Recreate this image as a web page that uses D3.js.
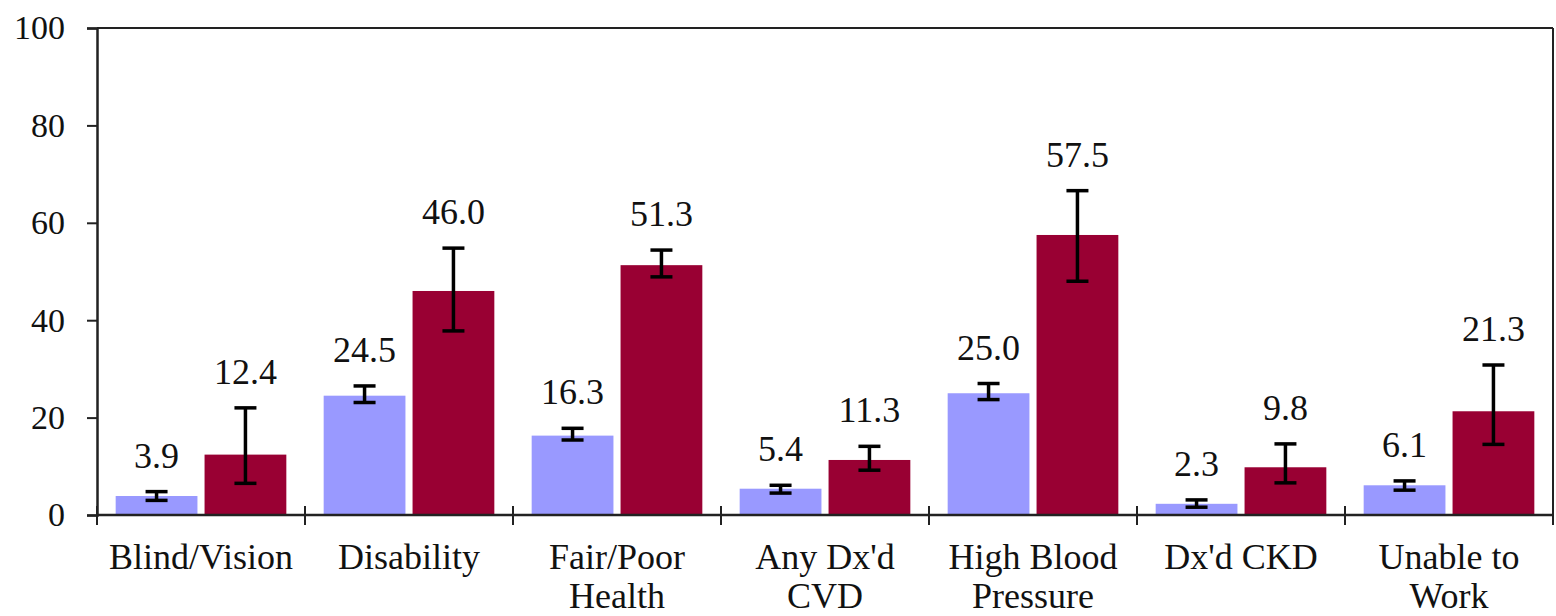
<!DOCTYPE html>
<html>
<head>
<meta charset="utf-8">
<script src="https://cdn.jsdelivr.net/npm/d3@7"></script>
<style>
  html, body { margin: 0; padding: 0; background: #fff; }
  svg { display: block; }
</style>
</head>
<body>
<svg id="chart" width="1556" height="616"></svg>
<script>
// ---- data ----
const categories = [["Blind/Vision"], ["Disability"], ["Fair/Poor", "Health"], ["Any Dx'd", "CVD"], ["High Blood", "Pressure"], ["Dx'd CKD"], ["Unable to", "Work"]];
const seriesNames = ["Group A", "Group B"];
const valuesA = [3.9, 24.5, 16.3, 5.4, 25.0, 2.3, 6.1];
const lowA    = [3.0, 23.1, 15.4, 4.5, 23.7, 1.6, 5.1];
const highA   = [4.8, 26.5, 17.8, 6.1, 27.0, 3.1, 7.0];
const valuesB = [12.4, 46.0, 51.3, 11.3, 57.5, 9.8, 21.3];
const lowB    = [6.5, 37.8, 48.9, 9.2, 48.0, 6.6, 14.5];
const highB   = [22.0, 54.8, 54.4, 14.1, 66.6, 14.6, 30.8];
const yTicks  = [0, 20, 40, 60, 80, 100];

// ---- layout ----
const W = 1556, H = 616;
const margin = { top: 28, right: 3, bottom: 101, left: 97 };
const iw = W - margin.left - margin.right;
const ih = H - margin.top - margin.bottom;
const colors = ["#9999ff", "#990033"];
const serif = "'Liberation Serif', 'Times New Roman', serif";

const svg = d3.select("#chart");
const g = svg.append("g").attr("transform", `translate(${margin.left},${margin.top})`);

const idx = categories.map((d, i) => i);
const x0 = d3.scaleBand().domain(idx).range([0, iw]).padding(0);
const x1 = d3.scaleBand().domain([0, 1]).range([0, x0.bandwidth()]).paddingInner(0.08).paddingOuter(0.21);
const y = d3.scaleLinear().domain([0, 100]).range([ih, 0]);

const rows = idx.map(i => [
  { s: 0, v: valuesA[i], lo: lowA[i], hi: highA[i] },
  { s: 1, v: valuesB[i], lo: lowB[i], hi: highB[i] }
]);

// bars
const groups = g.selectAll("g.grp").data(rows).join("g")
  .attr("class", "grp")
  .attr("transform", (d, i) => `translate(${x0(i)},0)`);

groups.selectAll("rect").data(d => d).join("rect")
  .attr("x", d => x1(d.s))
  .attr("width", x1.bandwidth())
  .attr("y", d => y(d.v))
  .attr("height", d => y(0) - y(d.v))
  .attr("fill", d => colors[d.s]);

// error bars
const cap = 11;
groups.selectAll("g.err").data(d => d).join("g").attr("class", "err").each(function (d) {
  const cx = x1(d.s) + x1.bandwidth() / 2;
  const e = d3.select(this);
  e.append("line").attr("x1", cx).attr("x2", cx).attr("y1", y(d.lo)).attr("y2", y(d.hi));
  e.append("line").attr("x1", cx - cap).attr("x2", cx + cap).attr("y1", y(d.lo)).attr("y2", y(d.lo));
  e.append("line").attr("x1", cx - cap).attr("x2", cx + cap).attr("y1", y(d.hi)).attr("y2", y(d.hi));
}).attr("stroke", "#000").attr("stroke-width", 3.5);

// value labels
groups.selectAll("text.val").data(d => d).join("text")
  .attr("class", "val")
  .attr("x", d => x1(d.s) + x1.bandwidth() / 2)
  .attr("y", d => y(d.hi) - 24)
  .attr("text-anchor", "middle")
  .style("font-family", serif)
  .style("font-size", "36px")
  .attr("fill", "#111")
  .text(d => d.v.toFixed(1));

// frame (top & right)
g.append("line").attr("x1", 0).attr("x2", iw).attr("y1", 0).attr("y2", 0)
  .attr("stroke", "#222").attr("stroke-width", 2);
g.append("line").attr("x1", iw).attr("x2", iw).attr("y1", 0).attr("y2", ih)
  .attr("stroke", "#222").attr("stroke-width", 2);

// y axis
const yAxis = g.append("g").call(d3.axisLeft(y).tickValues(yTicks).tickSize(10).tickPadding(22).tickFormat(d3.format("d")));
yAxis.select(".domain").attr("stroke", "#222").attr("stroke-width", 2.5);
yAxis.selectAll(".tick line").attr("stroke", "#222").attr("stroke-width", 2);
yAxis.selectAll("text")
  .style("font-family", serif).style("font-size", "34px").attr("fill", "#111");

// x axis line and boundary ticks
const xAxisG = g.append("g").attr("transform", `translate(0,${ih})`);
xAxisG.append("line").attr("x1", 0).attr("x2", iw).attr("stroke", "#222").attr("stroke-width", 2.5);
const bounds = idx.map(i => x0(i)).concat([iw]);
xAxisG.selectAll("line.tk").data(bounds).join("line").attr("class", "tk")
  .attr("x1", d => d).attr("x2", d => d).attr("y1", -9).attr("y2", 10)
  .attr("stroke", "#222").attr("stroke-width", 2);

// category labels
xAxisG.selectAll("text.cat").data(categories).join("text")
  .attr("class", "cat")
  .attr("text-anchor", "middle")
  .style("font-family", serif)
  .style("font-size", "36px")
  .attr("fill", "#111")
  .attr("transform", (d, i) => `translate(${x0(i) + x0.bandwidth() / 2},0)`)
  .each(function (lines) {
    const t = d3.select(this);
    lines.forEach((ln, k) => {
      t.append("tspan").attr("x", 0).attr("y", 54 + k * 39).text(ln);
    });
  });
</script>
</body>
</html>
